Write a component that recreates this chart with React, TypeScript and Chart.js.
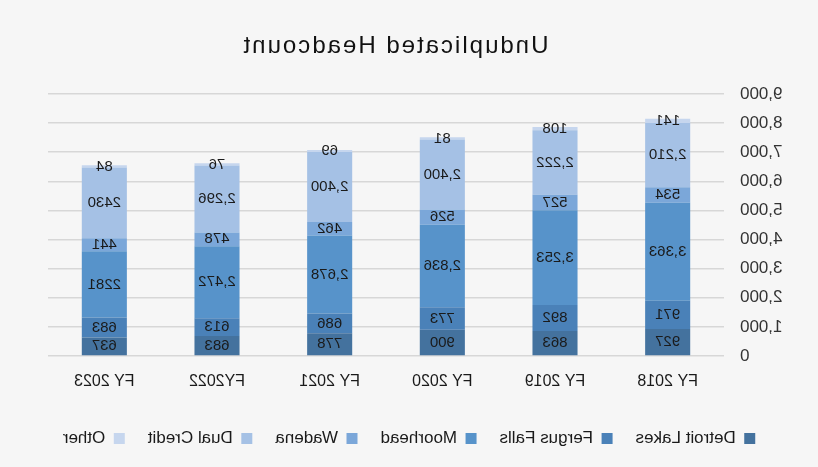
import React, { useEffect, useRef } from "react";
import { Chart, registerables } from "chart.js";

Chart.register(...registerables);

const categories = ["FY 2018", "FY 2019", "FY 2020", "FY 2021", "FY2022", "FY 2023"];
const detroitLakes = [927, 863, 900, 778, 683, 637];
const fergusFalls = [971, 892, 773, 686, 613, 683];
const moorhead = [3363, 3253, 2836, 2678, 2472, 2281];
const wadena = [534, 527, 526, 462, 478, 441];
const dualCredit = [2210, 2222, 2400, 2400, 2296, 2430];
const other = [141, 108, 81, 69, 76, 84];
const plainNumberCategories = ["FY 2023"];
const yTicks = [0, 1000, 2000, 3000, 4000, 5000, 6000, 7000, 8000, 9000];
const titleText = "Unduplicated Headcount";

const seriesList = [
  { label: "Detroit Lakes", data: detroitLakes, color: "#44729e" },
  { label: "Fergus Falls", data: fergusFalls, color: "#4a81b8" },
  { label: "Moorhead", data: moorhead, color: "#5793ca" },
  { label: "Wadena", data: wadena, color: "#7ba7d9" },
  { label: "Dual Credit", data: dualCredit, color: "#a5c1e5" },
  { label: "Other", data: other, color: "#c6d6ee" },
];

const fmt = (v: number, cat: string) =>
  plainNumberCategories.includes(cat) && v >= 1000 ? String(v) : v.toLocaleString("en-US");

const bgPlugin = {
  id: "bg",
  beforeDraw(chart: any) {
    const { ctx, width, height } = chart;
    ctx.save();
    ctx.fillStyle = "#f6f6f6";
    ctx.fillRect(0, 0, width, height);
    ctx.restore();
  },
};

const titlePlugin = {
  id: "customTitle",
  afterDraw(chart: any) {
    const { ctx, width } = chart;
    ctx.save();
    ctx.font = "24px 'Liberation Sans', Arial, sans-serif";
    (ctx as any).letterSpacing = "2px";
    ctx.fillStyle = "#111111";
    ctx.textAlign = "center";
    ctx.textBaseline = "middle";
    ctx.fillText(titleText, width / 2 + 14, 46);
    ctx.restore();
  },
};

const labelPlugin = {
  id: "segLabels",
  afterDatasetsDraw(chart: any) {
    const { ctx } = chart;
    ctx.save();
    ctx.font = "15px 'Liberation Sans', Arial, sans-serif";
    ctx.fillStyle = "#1a1a1a";
    ctx.textAlign = "center";
    ctx.textBaseline = "middle";
    chart.data.datasets.forEach((ds: any, di: number) => {
      const meta = chart.getDatasetMeta(di);
      meta.data.forEach((el: any, i: number) => {
        const v = ds.data[i];
        const y = (el.y + el.base) / 2;
        ctx.fillText(fmt(v, categories[i]), el.x, y);
      });
    });
    ctx.restore();
  },
};

export default function App() {
  const ref = useRef<HTMLCanvasElement | null>(null);
  useEffect(() => {
    document.body.style.margin = "0";
    const chart = new Chart(ref.current as HTMLCanvasElement, {
      type: "bar",
      data: {
        labels: categories,
        datasets: seriesList.map((s) => ({
          label: s.label,
          data: s.data,
          backgroundColor: s.color,
          borderWidth: 0,
          categoryPercentage: 1,
          barPercentage: 0.4,
        })),
      },
      options: {
        animation: false,
        responsive: false,
        maintainAspectRatio: false,
        layout: { padding: { left: 0, right: 0, top: 94, bottom: 10 } },
        plugins: {
          title: { display: false },
          tooltip: { enabled: false },
          legend: {
            position: "bottom",
            labels: {
              boxWidth: 11,
              boxHeight: 11,
              padding: 23,
              color: "#1a1a1a",
              font: { family: "'Liberation Sans', Arial, sans-serif", size: 17 },
            },
          },
        },
        scales: {
          x: {
            stacked: true,
            grid: { display: false, drawTicks: false },
            border: { display: false },
            ticks: {
              color: "#1a1a1a",
              padding: 16,
              font: { family: "'Liberation Sans', Arial, sans-serif", size: 16 },
            },
            afterFit(scale: any) {
              scale.height = 51;
            },
          },
          y: {
            stacked: true,
            min: 0,
            max: 9000,
            afterBuildTicks(scale: any) {
              scale.ticks = yTicks.map((v) => ({ value: v }));
            },
            grid: { color: "#d7d7d7", lineWidth: 1.5, drawTicks: false },
            border: { display: false },
            ticks: {
              color: "#333333",
              padding: 16,
              font: { family: "'Liberation Sans', Arial, sans-serif", size: 17 },
              callback: (v: any) => Number(v).toLocaleString("en-US"),
            },
            afterFit(scale: any) {
              scale.width = 94;
            },
          },
          spacer: {
            type: "linear",
            position: "right",
            display: true,
            grid: { display: false, drawTicks: false },
            border: { display: false },
            ticks: { display: false },
            afterFit(scale: any) {
              scale.width = 48;
            },
          },
        },
      },
      plugins: [bgPlugin, titlePlugin, labelPlugin],
    });
    return () => chart.destroy();
  }, []);
  return (
    <div style={{ position: "absolute", left: 0, top: 0, width: 818, height: 467, transform: "scaleX(-1)" }}>
      <canvas ref={ref} width={818} height={467} style={{ display: "block", width: 818, height: 467 }} />
    </div>
  );
}
